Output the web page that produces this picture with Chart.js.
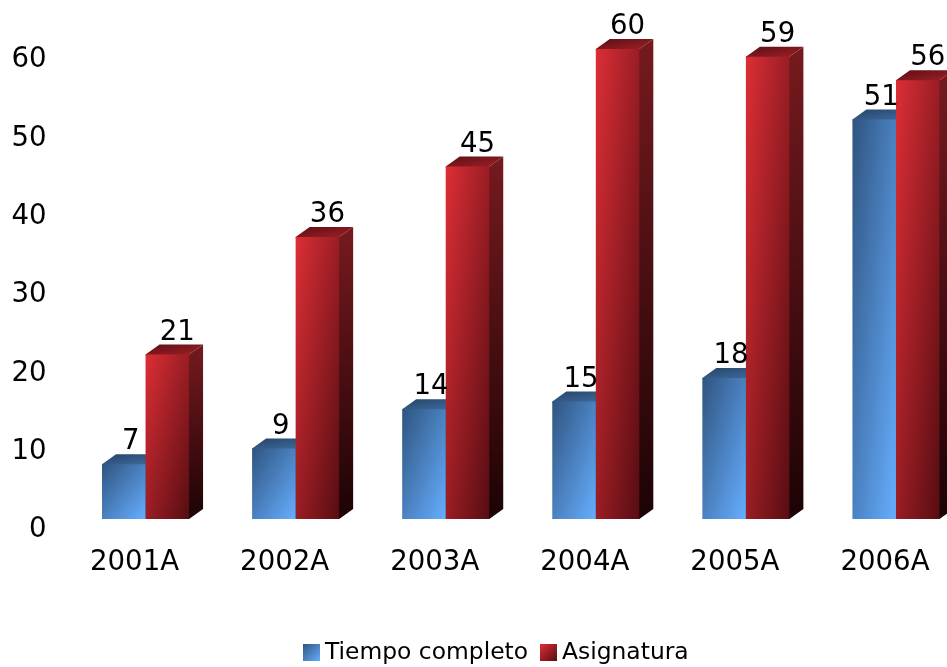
<!DOCTYPE html>
<html>
<head>
<meta charset="utf-8">
<style>
html, body { margin: 0; padding: 0; background: #fff; overflow: hidden; }
#chart-legend { position: absolute; left: 303px; top: 634px; font: 23.4px "DejaVu Sans", Verdana, sans-serif; line-height: 34px; color: #000; white-space: nowrap; }
#chart-legend span { display: inline-block; width: 17px; height: 17px; margin-right: 5px; vertical-align: -2px; }
#chart-legend b { font-weight: normal; margin-right: 12px; }
</style>
<script src="https://cdn.jsdelivr.net/npm/chart.js@4"></script>
</head>
<body>
<canvas id="chart" width="992" height="667"></canvas>
<div id="chart-legend"></div>
<script>
var years = ["2001A", "2002A", "2003A", "2004A", "2005A", "2006A"];
var tiempoCompleto = [7, 9, 14, 15, 18, 51];
var asignatura = [21, 36, 45, 60, 59, 56];

var FONT = '"DejaVu Sans", Verdana, sans-serif';
var DEPTH_X = 14, DEPTH_Y = 10;

var palette = [
    { front: ['#2f5480', '#66aeff'], top: ['#264468', '#3f6c9f'], side: ['#264468', '#12243a'], labelX: 7 },
    { front: ['#dd2e36', '#560d12'], top: ['#5a1015', '#a01f26'], side: ['#761a1e', '#1c0305'], labelX: 10 }
];

// same idea as a bounding box gradient: corner to corner, whatever the bar's shape
function boxGradient(c, x, y, w, h, stops) {
    var k = 2 * w * h / (w * w + h * h);
    var g = c.createLinearGradient(x, y, x + h * k, y + w * k);
    g.addColorStop(0, stops[0]);
    g.addColorStop(1, stops[1]);
    return g;
}

var bars3d = {
    id: 'bars3d',
    beforeDatasetsDraw: function(chart) {
        var c = chart.ctx;
        chart.data.datasets.forEach(function(ds, i) {
            chart.getDatasetMeta(i).data.forEach(function(bar) {
                var w = bar.width, l = bar.x - w / 2, r = bar.x + w / 2;
                var t = bar.y, b = bar.base;
                // top, runs 1px under the front so no seam shows
                c.fillStyle = boxGradient(c, l, t - DEPTH_Y, w + DEPTH_X, DEPTH_Y, palette[i].top);
                c.beginPath();
                c.moveTo(l, t);
                c.lineTo(l + DEPTH_X, t - DEPTH_Y);
                c.lineTo(r + DEPTH_X, t - DEPTH_Y);
                c.lineTo(r, t);
                c.lineTo(r, t + 1);
                c.lineTo(l, t + 1);
                c.closePath();
                c.fill();
                // side
                var g = c.createLinearGradient(r, t - DEPTH_Y, r + DEPTH_X, b);
                g.addColorStop(0, palette[i].side[0]);
                g.addColorStop(1, palette[i].side[1]);
                c.fillStyle = g;
                c.beginPath();
                c.moveTo(r - 1, t);
                c.lineTo(r, t);
                c.lineTo(r + DEPTH_X, t - DEPTH_Y);
                c.lineTo(r + DEPTH_X, b - DEPTH_Y);
                c.lineTo(r, b);
                c.lineTo(r - 1, b);
                c.closePath();
                c.fill();
                // front
                bar.options = Object.assign({}, bar.options, {
                    backgroundColor: boxGradient(c, l, t, w, b - t, palette[i].front)
                });
            });
        });
    },
    afterDatasetsDraw: function(chart) {
        var c = chart.ctx;
        c.save();
        c.font = '27.6px ' + FONT;
        c.fillStyle = '#000';
        c.textAlign = 'center';
        c.textBaseline = 'alphabetic';
        chart.data.datasets.forEach(function(ds, i) {
            chart.getDatasetMeta(i).data.forEach(function(bar, n) {
                c.fillText(ds.data[n], bar.x + palette[i].labelX, bar.y - 15);
            });
        });
        c.restore();
    }
};

var ctx = document.getElementById("chart");

var myChart = new Chart(ctx, {
    type: 'bar',
    data: {
        labels: years,
        datasets: [{
            label: 'Tiempo completo',
            data: tiempoCompleto,
            backgroundColor: '#4a80c0'
        }, {
            label: 'Asignatura',
            data: asignatura,
            backgroundColor: '#c02028'
        }]
    },
    options: {
        responsive: false,
        animation: false,
        categoryPercentage: 0.58,
        barPercentage: 1,
        layout: {
            padding: { top: 49, right: 21, bottom: 0, left: 0 }
        },
        plugins: {
            tooltip: { enabled: false },
            legend: { display: false }
        },
        scales: {
            x: {
                grid: { display: false },
                border: { display: false },
                afterFit: function(s) { s.height = 148; },
                ticks: {
                    color: '#000',
                    font: { family: FONT, size: 27.6 },
                    labelOffset: -11,
                    padding: 19,
                    maxRotation: 0
                }
            },
            y: {
                min: 0,
                max: 60,
                grid: { display: false },
                border: { display: false },
                afterFit: function(s) { s.width = 70.5; },
                ticks: {
                    color: '#000',
                    font: { family: FONT, size: 27.6 },
                    stepSize: 10,
                    labelOffset: 11,
                    padding: 16
                }
            }
        }
    },
    plugins: [bars3d]
});

var text = [];
myChart.data.datasets.forEach(function(ds, i) {
    var f = palette[i].front;
    text.push('<span style="background:linear-gradient(135deg,' + f[0] + ',' + f[1] + ')"></span><b>' + ds.label + '</b>');
});
document.getElementById('chart-legend').innerHTML = text.join('');
</script>
</body>
</html>
